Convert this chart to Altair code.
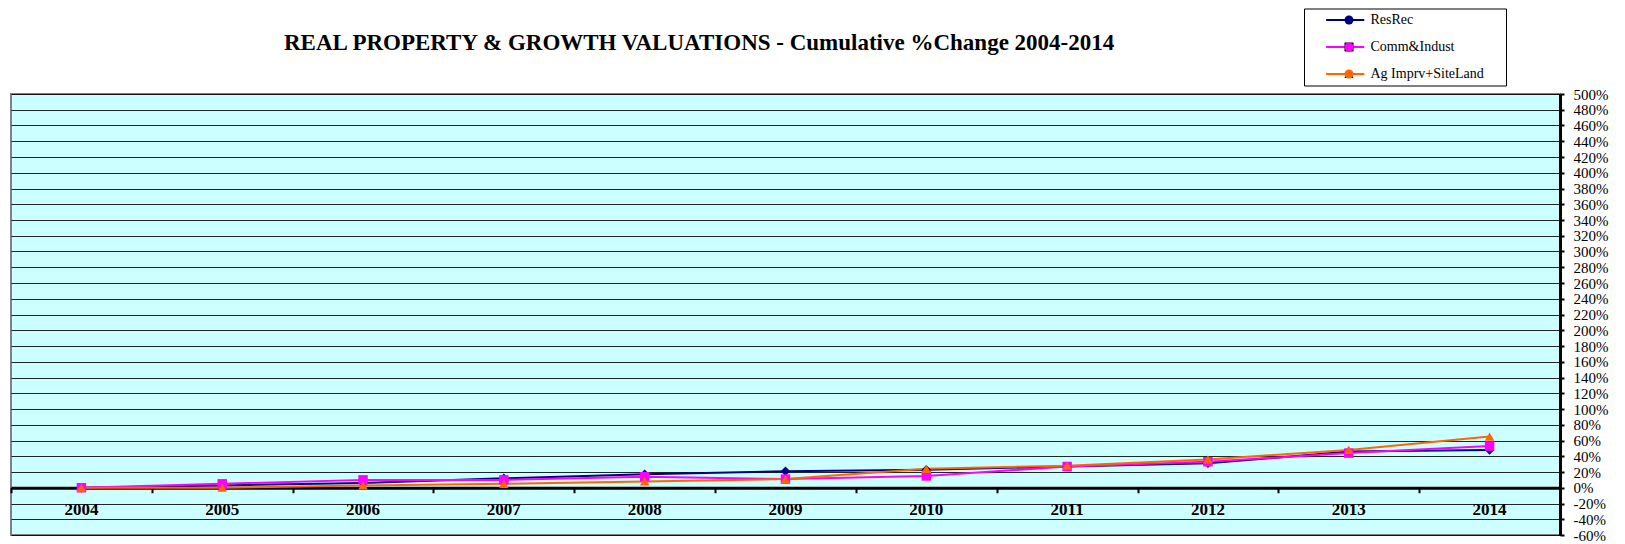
import altair as alt
import pandas as pd

years = [2004, 2005, 2006, 2007, 2008, 2009, 2010, 2011, 2012, 2013, 2014]
series_names = ["ResRec", "Comm&Indust", "Ag Imprv+SiteLand"]
resrec = [0, 3, 6, 12, 17, 21, 23, 27, 31, 46, 48]
comm = [0, 5, 10, 10, 14, 11, 15, 27, 33, 44, 53]
ag = [0, 0, 3, 5, 8, 11, 24, 28, 36, 48, 65]
colors = ["#000080", "#FF00FF", "#FF6600"]
shapes = ["diamond", "square", "triangle-up"]
y_ticks = list(range(-60, 501, 20))
x_bounds = [y - 0.5 for y in years]
title_text = "REAL PROPERTY & GROWTH VALUATIONS - Cumulative %Change 2004-2014"

rows = []
for name, vals in zip(series_names, [resrec, comm, ag]):
    for yr, v in zip(years, vals):
        rows.append({"year": yr, "series": name, "series2": name, "value": v})
df = pd.DataFrame(rows)
labels_df = pd.DataFrame({"year": years, "label": [str(y) for y in years]})

PLOT_W, PLOT_H = 1549, 441
zero_offset = -PLOT_H * 60 / 560

x_scale = alt.Scale(domain=[2003.5, 2014.5], nice=False, zero=False)
y_scale = alt.Scale(domain=[-60, 500], nice=False, zero=False)

x_axis = alt.Axis(values=x_bounds, tickCount=40, labels=False, grid=False,
                  domainColor="black", domainWidth=3, tickColor="black",
                  tickWidth=2, tickSize=5, offset=zero_offset, title=None)
y_axis = alt.Axis(orient="right", values=y_ticks, tickCount=60, labelOverlap=False,
                  labelExpr="datum.value + '%'",
                  grid=True, gridColor="black", gridWidth=1, gridOpacity=0.85,
                  domainColor="black", domainWidth=3, tickColor="black",
                  tickWidth=2, tickSize=4, labelPadding=9, labelBaseline="middle",
                  labelFont="Liberation Serif", labelFontSize=15,
                  labelColor="black", title=None)

X = alt.X("year:Q", scale=x_scale, axis=x_axis)
Y = alt.Y("value:Q", scale=y_scale, axis=y_axis)

LEG_PAD = 4.5
lines = alt.Chart(df).mark_line(strokeWidth=2).encode(
    x=X, y=Y,
    color=alt.Color("series:N",
                    scale=alt.Scale(domain=series_names, range=colors),
                    legend=alt.Legend(orient="none", legendX=1293, legendY=-85.5,
                                      title=".", titleOrient="right", titleFontSize=4,
                                      titleOpacity=0, titlePadding=16,
                                      symbolType="M2.36,0H10.84",
                                      symbolSize=81, symbolStrokeWidth=2,
                                      labelOffset=48, labelFont="Liberation Serif",
                                      labelFontSize=14, labelColor="black",
                                      clipHeight=14, rowPadding=13, padding=LEG_PAD,
                                      strokeColor="black", fillColor="white")),
    order=alt.Order("year:Q"),
)

shape_legend = alt.Legend(orient="none", legendX=1331, legendY=-85.5 + LEG_PAD,
                          title=None, symbolSize=81, symbolStrokeWidth=0,
                          labelExpr="''", labelFontSize=14,
                          clipHeight=14, rowPadding=13, padding=0)

points = alt.Chart(df).mark_point(filled=True, size=90, opacity=1, strokeWidth=0).encode(
    x=X, y=Y,
    fill=alt.Fill("series2:N", sort=series_names,
                  scale=alt.Scale(range=colors), legend=shape_legend),
    shape=alt.Shape("series2:N", sort=series_names,
                    scale=alt.Scale(range=shapes), legend=shape_legend),
)

year_labels = alt.Chart(labels_df).mark_text(
    font="Liberation Serif", fontSize=17, fontWeight="bold", color="black",
    baseline="middle", align="center"
).encode(x=X, y=alt.datum(-28), text="label:N")

chart = alt.layer(lines, points, year_labels).properties(
    width=PLOT_W, height=PLOT_H,
    autosize=alt.AutoSizeParams(type="none"),
    padding={"left": 3, "top": 86, "right": 57, "bottom": 8},
    background="white",
    title=alt.Title(title_text, font="Liberation Serif", fontSize=23,
                    fontWeight="bold", color="black", anchor="start", dx=274,
                    offset=0, dy=47),
).configure_view(fill="#CCFFFF", stroke="#808080", strokeWidth=2)

chart.save("out.html", embed_options={"renderer": "svg", "actions": False})
